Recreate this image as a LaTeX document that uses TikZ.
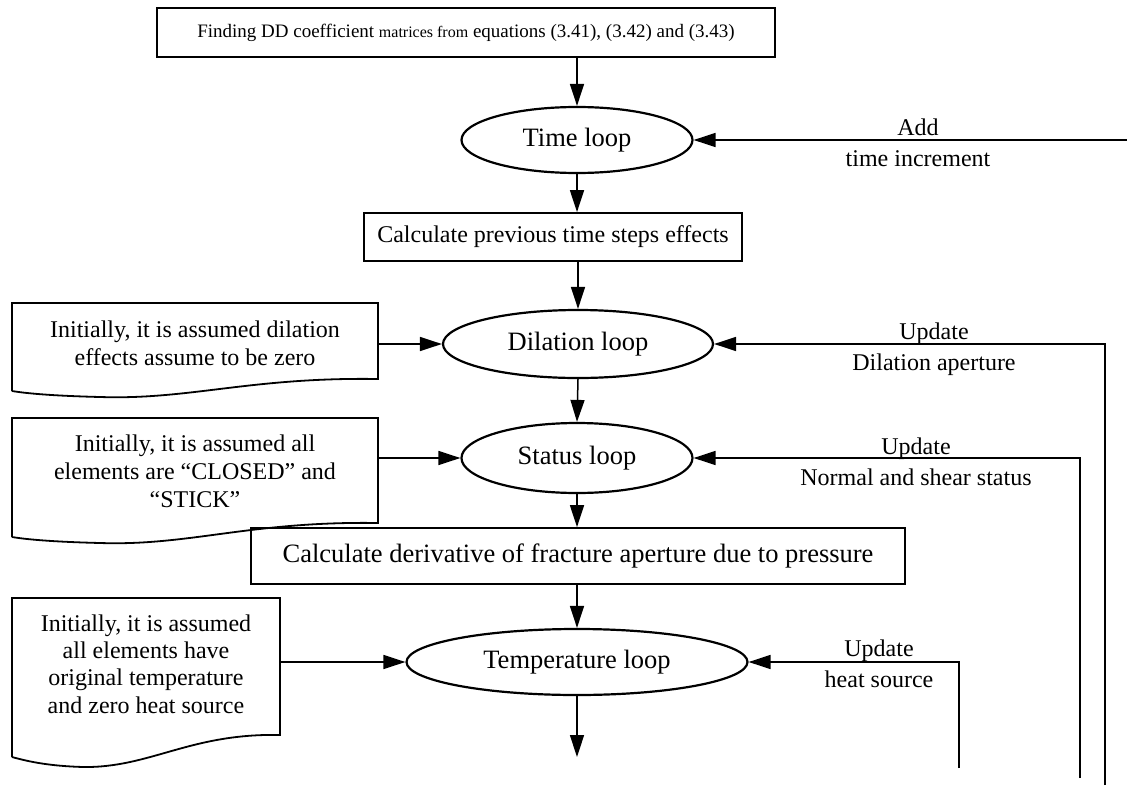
\documentclass[tikz,border=0pt]{standalone}
\usepackage{fontspec}
\setmainfont{Liberation Serif}
\usetikzlibrary{arrows.meta,shapes.geometric}
\begin{document}
\begin{tikzpicture}[x=1pt,y=-1pt,
  every node/.style={font=\fontsize{24}{28}\selectfont},
  procbox/.style={draw,line width=1.8pt,rectangle,inner sep=0pt},
  loopnode/.style={draw,line width=2.2pt,ellipse,inner sep=0pt,font=\fontsize{26.5}{30}\selectfont},
  docshape/.style={draw,line width=1.8pt},
  doctext/.style={align=center,inner sep=0pt},
  flow/.style={line width=1.5pt,-{Triangle[length=22pt,width=14pt]}},
  lbl/.style={align=center,inner sep=0pt,font=\fontsize{24}{31}\selectfont}]
\useasboundingbox (0,0) rectangle (1127,787);

% main column
\node[procbox,minimum width=618,minimum height=49] (init) at (466,32.5)
  {\fontsize{19}{22}\selectfont Finding DD coefficient {\fontsize{16}{22}\selectfont matrices from} equations (3.41), (3.42) and (3.43)};
\node[loopnode,minimum width=231,minimum height=66] (time) at (577,140) {Time loop};
\node[procbox,minimum width=378,minimum height=48] (prev) at (553,237) {Calculate previous time steps effects};
\node[loopnode,minimum width=270,minimum height=68] (dil) at (578,344) {Dilation loop};
\node[loopnode,minimum width=231,minimum height=70] (stat) at (577,458) {Status loop};
\node[procbox,minimum width=654,minimum height=56,font=\fontsize{26.5}{30}\selectfont] (deriv) at (578,556) {Calculate derivative of fracture aperture due to pressure};
\node[loopnode,minimum width=341,minimum height=66] (temp) at (577,662) {Temperature loop};
\coordinate (out) at (577,757);

\draw[flow] (init.south -| time.north) -- (time.north);
\draw[flow] (time.south) -- (time.south |- prev.north);
\draw[flow] (prev.south -| dil.north) -- (dil.north);
\draw[flow] (dil.south) -- (stat.north);
\draw[flow] (stat.south) -- (stat.south |- deriv.north);
\draw[flow] (deriv.south -| temp.north) -- (temp.north);
\draw[flow] (temp.south) -- (out);

% input documents
\draw[docshape] (12,391) -- (12,303) -- (378,303) -- (378,379)
  .. controls (250,377) and (190,400) .. (100,397)
  .. controls (60,396) and (30,394) .. (12,391);
\node[doctext] (doc1) at (195,343) {Initially, it is assumed dilation\\effects assume to be zero};
\coordinate (doc1e) at (378,344);
\draw[flow] (doc1e) -- (dil.west);

\draw[docshape] (12,537) -- (12,418) -- (378,418) -- (378,523)
  .. controls (250,521) and (190,546) .. (100,543)
  .. controls (60,542) and (30,540) .. (12,537);
\node[doctext] (doc2) at (195,471) {Initially, it is assumed all\\elements are “CLOSED” and\\“STICK”};
\coordinate (doc2e) at (378,458);
\draw[flow] (doc2e) -- (stat.west);

\draw[docshape] (12,757) -- (12,598) -- (280,598) -- (280,735)
  .. controls (190,733) and (150,768) .. (83,767)
  .. controls (50,766) and (30,762) .. (12,757);
\node[doctext,font=\fontsize{24}{27.3}\selectfont] (doc3) at (146,664) {Initially, it is assumed\\all elements have\\original temperature\\and zero heat source};
\coordinate (doc3e) at (280,662);
\draw[flow] (doc3e) -- (temp.west);

% feedback paths
\coordinate (fbtime) at (1127,140);
\draw[flow] (fbtime) -- (time.east);
\node[lbl] (addlbl) at (918,143) {Add\\time increment};

\coordinate (fbdil) at (1105,785);
\draw[flow] (fbdil) |- (dil.east);
\node[lbl] (dillbl) at (934,349) {Update\\Dilation aperture};

\coordinate (fbstat) at (1080,778);
\draw[flow] (fbstat) |- (stat.east);
\node[lbl] (statlbl) at (916,462) {Update\\Normal and shear status};

\coordinate (fbtemp) at (959,768);
\draw[flow] (fbtemp) |- (temp.east);
\node[lbl] (templbl) at (879,664) {Update\\heat source};
\end{tikzpicture}
\end{document}
